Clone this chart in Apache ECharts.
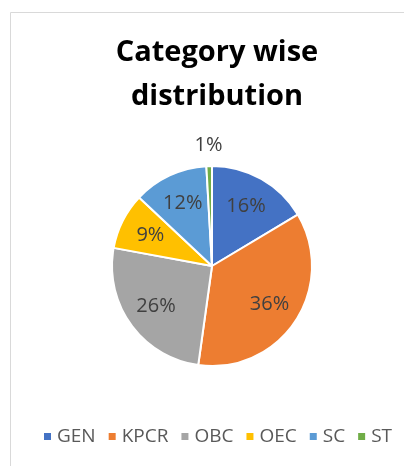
<!DOCTYPE html>
<html><head><meta charset="utf-8">
<script src="https://cdn.jsdelivr.net/npm/echarts@6/dist/echarts.min.js"></script>
<style>html,body{margin:0;padding:0;background:#fff}#c{width:404px;height:466px}</style>
</head><body><div id="c"></div>
<script>
const categories = ['GEN', 'KPCR', 'OBC', 'OEC', 'SC', 'ST'];
const values = [16.4, 35.8, 25.7, 9.1, 12.1, 0.9];
const colors = ['#4472C4', '#ED7D31', '#A5A5A5', '#FFC000', '#5B9BD5', '#70AD47'];
const outsideLabelCats = ['ST'];
const titleText = 'Category wise\ndistribution';

const chart = echarts.init(document.getElementById('c'), null, {renderer: 'canvas'});
const fmt = p => Math.round(p.percent) + '%';
const labelFont = {fontFamily: 'Open Sans', fontSize: 20, color: '#404040'};
const mainData = categories.map((n, i) => ({name: n, value: values[i], itemStyle: {color: colors[i]}}));
const innerLabelData = categories.map((n, i) => ({
  name: n, value: values[i], label: {show: !outsideLabelCats.includes(n)}
}));
const outerLabelData = categories.map((n, i) => ({
  name: n, value: values[i], label: {show: outsideLabelCats.includes(n)}
}));
const labelSeries = (r, data) => ({
  type: 'pie', center: [212, 266], radius: [0, r], startAngle: 90, clockwise: true,
  data: data, silent: true,
  itemStyle: {color: 'rgba(0,0,0,0)', borderWidth: 0},
  label: Object.assign({position: 'inside', formatter: fmt}, labelFont),
  labelLine: {show: false}, emphasis: {disabled: true}
});
chart.setOption({
  animation: false,
  color: colors,
  graphic: [{type: 'rect', shape: {x: 10.5, y: 12.5, width: 420, height: 480},
    style: {fill: 'none', stroke: '#d9d9d9', lineWidth: 1}, silent: true}],
  title: {
    text: titleText, left: 212, top: 26, textAlign: 'center',
    textStyle: {fontFamily: 'Open Sans', fontWeight: 'bold', fontSize: 29, lineHeight: 44, color: '#000'}
  },
  legend: {
    data: categories, bottom: 15, left: 37,
    icon: 'rect', itemWidth: 9, itemHeight: 9, itemGap: 11,
    textStyle: {fontFamily: 'Open Sans', fontSize: 19, color: '#595959'}
  },
  series: [{
    type: 'pie', center: [212, 266], radius: [0, 100], startAngle: 90, clockwise: true,
    data: mainData, silent: true,
    itemStyle: {borderColor: '#fff', borderWidth: 2},
    label: {show: false}, labelLine: {show: false}
  }, labelSeries(132, innerLabelData), labelSeries(236, outerLabelData)]
});
</script></body></html>
